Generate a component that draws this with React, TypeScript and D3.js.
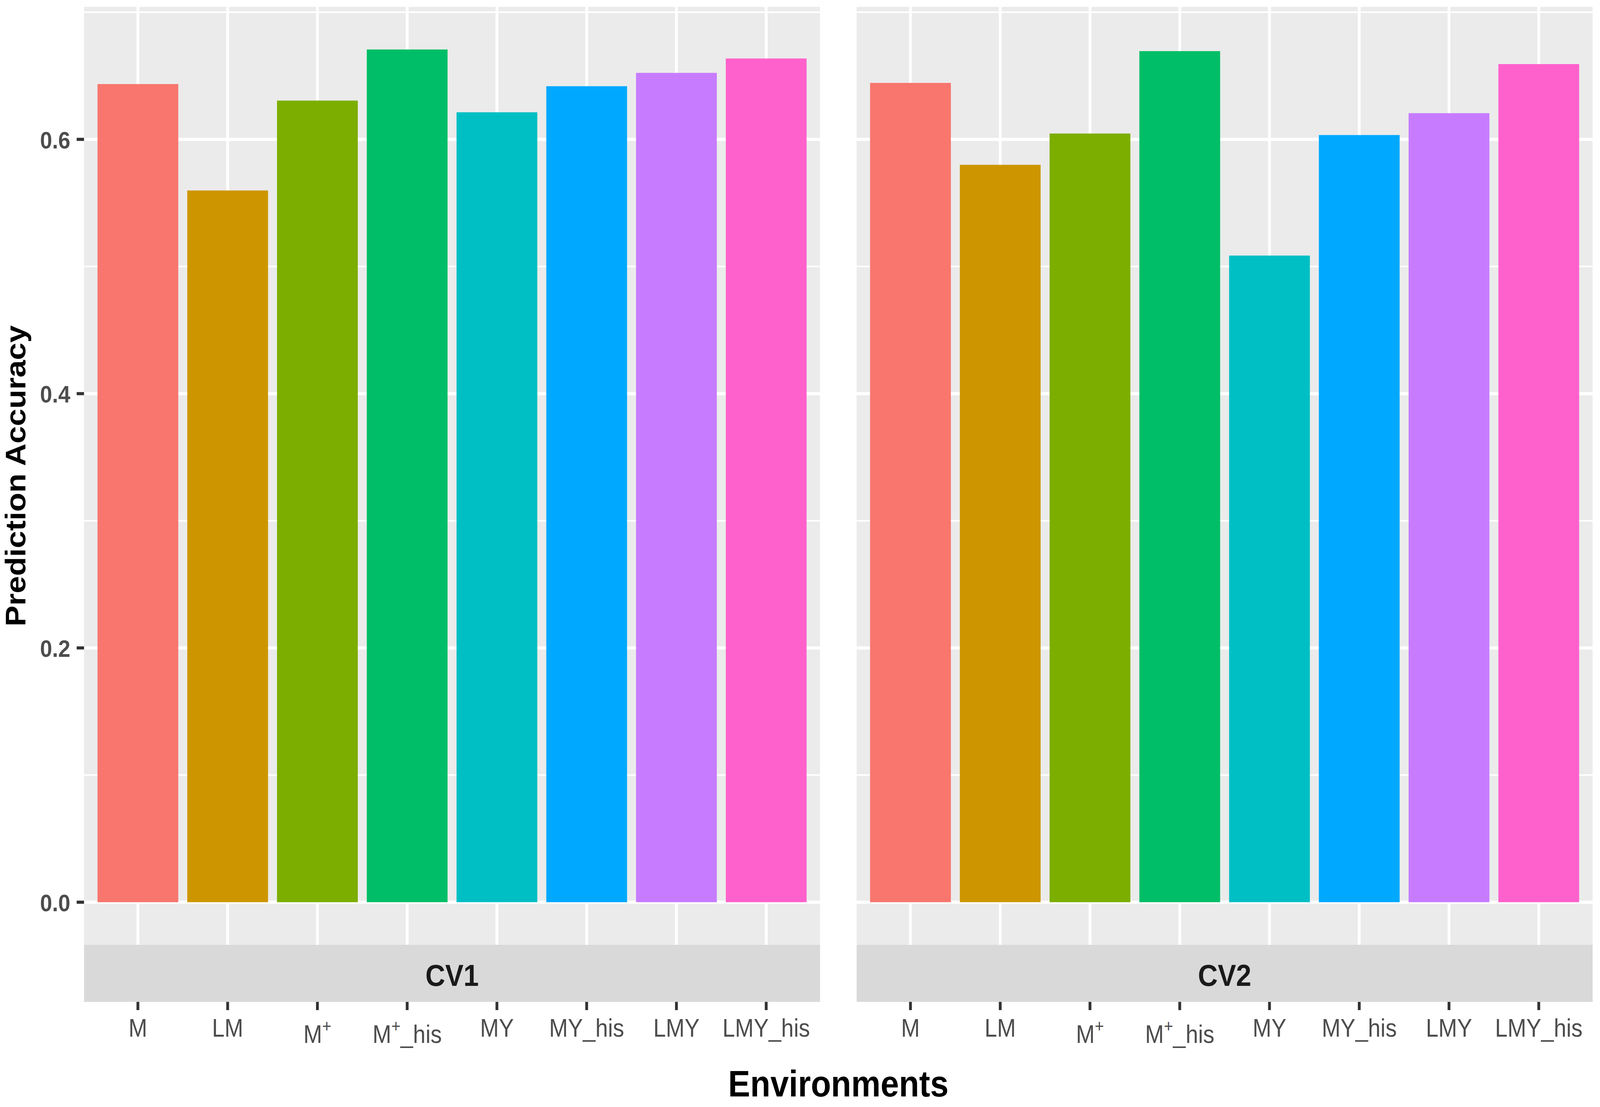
import React from "react";
import * as d3 from "d3";

const categories = ["M", "LM", "M+", "M+_his", "MY", "MY_his", "LMY", "LMY_his"];
const panels = ["CV1", "CV2"];
const cv1Values = [0.6435, 0.5598, 0.6305, 0.6707, 0.6213, 0.6418, 0.6523, 0.6636];
const cv2Values = [0.6444, 0.58, 0.6046, 0.6694, 0.5086, 0.6034, 0.6206, 0.6592];
const colors = ["#F8766D", "#CD9600", "#7CAE00", "#00BE67", "#00BFC4", "#00A9FF", "#C77CFF", "#FF61CC"];
const yMajor = [0, 0.2, 0.4, 0.6];
const yMinor = [0.1, 0.3, 0.5, 0.7];

const W = 4550;
const H = 2833;
const FONT = "'Liberation Sans', Arial, Helvetica, sans-serif";

const panelTop = 17.5;
const panelBottom = 2418;
const stripBottom = 2564;
const panelX = [
  [239, 2332],
  [2436, 4529],
];

function Label({ name, x }: { name: string; x: number }) {
  const sup = name.includes("+");
  const base = sup ? 2669 : 2653;
  if (!sup) {
    return (
      <text x={x} y={base} textAnchor="middle" fontSize={64} fill="#4D4D4D" fontFamily={FONT}>
        {name}
      </text>
    );
  }
  const [a, b] = name.split("+");
  return (
    <text x={x} y={base} textAnchor="middle" fontSize={64} fill="#4D4D4D" fontFamily={FONT}>
      <tspan>{a}</tspan>
      <tspan fontSize={45} dy={-28}>+</tspan>
      {b ? <tspan dy={28}>{b}</tspan> : null}
    </text>
  );
}

export default function App() {
  React.useEffect(() => {
    document.body.style.margin = "0";
    document.body.style.overflow = "hidden";
  }, []);
  const all = [...cv1Values, ...cv2Values];
  const maxV = d3.max(all) as number;
  const ex = maxV * 0.05;
  const y = d3.scaleLinear().domain([-ex, maxV + ex]).range([panelBottom, panelTop]);
  const series = [cv1Values, cv2Values];

  return (
    <svg
      viewBox={`0 0 ${W} ${H}`}
      preserveAspectRatio="none"
      style={{ position: "fixed", left: 0, top: 0, width: "100vw", height: "100vh", background: "#fff" }}
    >
      <rect x={0} y={0} width={W} height={H} fill="#fff" />
      {panels.map((p, pi) => {
        const [x0, x1] = panelX[pi];
        const x = d3.scaleBand<string>().domain(categories).range([x0, x1]).paddingInner(0.1).paddingOuter(0.15);
        const vals = series[pi];
        return (
          <g key={p}>
            <rect x={x0} y={panelTop} width={x1 - x0} height={panelBottom - panelTop} fill="#EBEBEB" />
            {yMinor.map((v) => (
              <line key={"mi" + v} x1={x0} x2={x1} y1={y(v)} y2={y(v)} stroke="#fff" strokeWidth={4} />
            ))}
            {yMajor.map((v) => (
              <line key={"ma" + v} x1={x0} x2={x1} y1={y(v)} y2={y(v)} stroke="#fff" strokeWidth={8} />
            ))}
            {categories.map((c) => {
              const cx = (x(c) as number) + x.bandwidth() / 2;
              return <line key={"v" + c} x1={cx} x2={cx} y1={panelTop} y2={panelBottom} stroke="#fff" strokeWidth={8} />;
            })}
            {categories.map((c, i) => (
              <rect
                key={"b" + c}
                x={x(c) as number}
                width={x.bandwidth()}
                y={y(vals[i])}
                height={y(0) - y(vals[i])}
                fill={colors[i]}
              />
            ))}
            <rect x={x0} y={panelBottom} width={x1 - x0} height={stripBottom - panelBottom} fill="#D9D9D9" />
            <text
              x={(x0 + x1) / 2}
              y={2523}
              textAnchor="middle"
              fontSize={78}
              fontWeight="bold"
              fill="#1A1A1A"
              fontFamily={FONT}
            >
              {p}
            </text>
            {categories.map((c) => {
              const cx = (x(c) as number) + x.bandwidth() / 2;
              return (
                <g key={"t" + c}>
                  <line x1={cx} x2={cx} y1={stripBottom} y2={stripBottom + 21} stroke="#333333" strokeWidth={8} />
                  <Label name={c} x={cx} />
                </g>
              );
            })}
          </g>
        );
      })}
      {yMajor.map((v) => (
        <g key={"yt" + v}>
          <line x1={218} x2={239} y1={y(v)} y2={y(v)} stroke="#333333" strokeWidth={8} />
          <text
            x={200}
            y={y(v) + 23}
            textAnchor="end"
            fontSize={62}
            fontWeight="bold"
            fill="#4D4D4D"
            fontFamily={FONT}
          >
            {d3.format(".1f")(v)}
          </text>
        </g>
      ))}
      <text
        transform={`translate(72, ${(panelTop + panelBottom) / 2}) rotate(-90)`}
        textAnchor="middle"
        fontSize={80}
        fontWeight="bold"
        fill="#000"
        fontFamily={FONT}
      >
        Prediction Accuracy
      </text>
      <text
        x={(panelX[0][0] + panelX[1][1]) / 2}
        y={2806}
        textAnchor="middle"
        fontSize={94}
        fontWeight="bold"
        fill="#000"
        fontFamily={FONT}
      >
        Environments
      </text>
    </svg>
  );
}
